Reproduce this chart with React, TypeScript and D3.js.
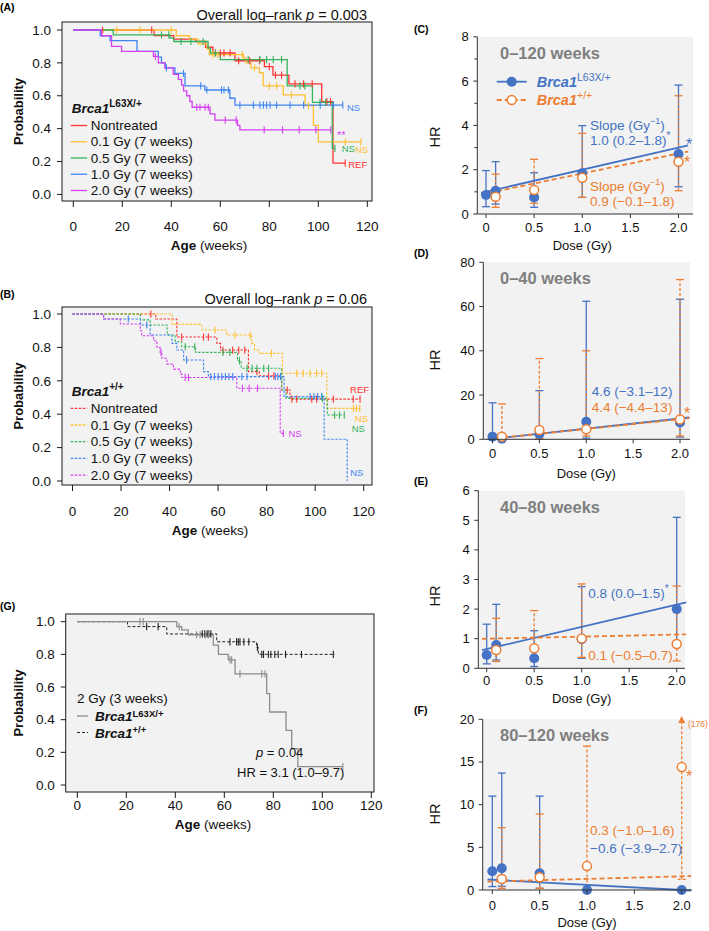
import React from "react";
import * as d3 from "d3";

const FONT = "'Liberation Sans', Arial, Helvetica, sans-serif";
const BLUE = "#4472c4";
const ORANGE = "#ed7d31";
const BG = "#f2f2f2";
const TITLE_GRAY = "#7f7f7f";

// ---------------- Kaplan–Meier data ----------------
const kmXTicks = [0, 20, 40, 60, 80, 100, 120];
const kmYTicks = [0, 0.2, 0.4, 0.6, 0.8, 1.0];
const groupLabels = ["Nontreated", "0.1 Gy (7 weeks)", "0.5 Gy (7 weeks)", "1.0 Gy (7 weeks)", "2.0 Gy (7 weeks)"];
const groupColors = ["#ff3333", "#ffc030", "#33b35a", "#3f86f2", "#d43ff2"];
const endLabelsA = ["REF", "NS", "NS", "NS", "**"];
const endLabelsB = ["REF", "NS", "NS", "NS", "NS"];

// Panel A – Brca1 L63X/+ : [week, survival after event]
const aNontreatedSteps = [[33, 0.966], [41, 0.945], [50, 0.93], [54, 0.895], [57, 0.86], [66, 0.813], [78, 0.777], [81.5, 0.726], [88, 0.672], [101.4, 0.564], [106, 0.19]];
const aNontreatedCens = [12, 32, 58, 60, 61.5, 64, 67.5, 72, 76, 80, 82.5, 85, 90.5, 94, 97.5, 103.5, 105, 111];
const a01Steps = [[42, 0.965], [47.5, 0.945], [51, 0.915], [54.5, 0.885], [55.5, 0.85], [69.5, 0.83], [70.5, 0.8], [72.5, 0.77], [76, 0.74], [77.5, 0.66], [85.7, 0.605], [94.6, 0.54], [98, 0.42], [100, 0.32]];
const a01Cens = [17.7, 27.2, 40, 57, 59, 69, 74, 80, 83, 89, 96, 111, 117.4];
const a05Steps = [[16.3, 0.97], [39.5, 0.95], [41, 0.93], [55, 0.89], [56, 0.86], [60, 0.82], [87.3, 0.66], [97.6, 0.56], [105.7, 0.28]];
const a05Cens = [36, 39, 44, 48, 53, 58, 71.4, 76.2, 78.9, 81.6, 85, 92.5, 94.5, 100.7, 103, 106.8];
const a10Steps = [[11, 0.965], [15, 0.935], [26, 0.87], [34.7, 0.835], [36, 0.8], [37.5, 0.77], [41.5, 0.736], [45.6, 0.66], [53.7, 0.635], [63.9, 0.585], [66, 0.543]];
const a10Cens = [38, 45, 52, 54.5, 60.5, 61.5, 63.3, 68, 73.5, 76.2, 77.6, 78.9, 80.3, 83, 88.5, 94, 100.8, 106.2, 110];
const a20Steps = [[11.5, 0.965], [15.6, 0.9], [19.7, 0.87], [32.7, 0.84], [34.7, 0.8], [37.4, 0.77], [40.8, 0.73], [42.9, 0.7], [44.2, 0.665], [45, 0.63], [46.3, 0.6], [47.6, 0.565], [48.5, 0.53], [55.8, 0.49], [57.8, 0.452], [67, 0.42], [68, 0.392]];
const a20Cens = [33.5, 50.4, 51.7, 53.8, 55.1, 62, 66.5, 77.9, 85.4, 92.2, 99, 105.1];
const aEnds = [111, 117.4, 106.8, 110, 105.1];

// Panel B – Brca1 +/+
const bNontreatedSteps = [[34.3, 0.97], [43, 0.862], [59.5, 0.824], [61, 0.784], [72.5, 0.655], [77, 0.63], [86.2, 0.545], [89.6, 0.49]];
const bNontreatedCens = [32.3, 45, 54, 56, 62, 66, 68.5, 71, 76, 80.8, 83, 88.5, 90.4, 92.4, 98.6, 100.6, 107.5, 115.7, 118.5];
const b01Steps = [[41, 0.938], [53.3, 0.904], [63.5, 0.874], [73.8, 0.824], [75, 0.784], [77, 0.764], [86.5, 0.645], [104.8, 0.435]];
const b01Cens = [58.8, 67, 73.2, 82, 92.4, 95.1, 97.9, 100.6, 102.7, 115.7, 117, 118.4];
const b05Steps = [[28, 0.965], [32, 0.934], [39, 0.874], [42.3, 0.834], [45, 0.804], [50.7, 0.77], [68, 0.72], [69.5, 0.675], [86.2, 0.545], [88, 0.495], [105, 0.395]];
const b05Cens = [46.5, 50.4, 62, 64.8, 68.8, 71.9, 74, 76, 78.8, 80.8, 103, 108, 110, 112];
const b10Steps = [[12.8, 0.97], [28, 0.934], [32, 0.874], [41, 0.824], [43, 0.784], [45.8, 0.725], [54, 0.655], [56, 0.625], [87.2, 0.505], [103.7, 0.25], [113.2, 0]];
const b10Cens = [23, 30.6, 47, 57, 58.5, 60, 61.5, 63, 64.5, 66, 69.8, 71.9, 83.6, 84.6, 85.7, 97.9, 99.5, 101, 102.7];
const b20Steps = [[12.8, 0.97], [19.7, 0.94], [27.9, 0.9], [28.5, 0.87], [33.4, 0.84], [34.8, 0.8], [36.1, 0.77], [36.8, 0.735], [38.9, 0.7], [41.6, 0.67], [44.4, 0.64], [45.1, 0.62], [67.7, 0.555], [85.6, 0.285]];
const b20Cens = [36.5, 46.4, 47.8, 70, 72.8, 76.2, 86.9];
const bEnds = [118.5, 118.4, 112, 113.2, 86.9];

// Panel G – 2 Gy (3 weeks)
const gMutSteps = [[40.6, 0.97], [42.6, 0.95], [45.3, 0.92], [55.5, 0.857], [57.6, 0.8], [61.6, 0.766], [64.4, 0.68], [77.3, 0.56], [78.5, 0.447], [85.2, 0.335], [87.5, 0.223], [90, 0.112]];
const gMutCens = [25.6, 26.9, 41.6, 48.7, 50.1, 52.2, 53.5, 62.3, 63, 66.4, 75.3, 76.6, 108.4];
const gWtSteps = [[20.5, 0.97], [36.5, 0.925], [56.9, 0.877], [73.2, 0.843], [73.9, 0.8]];
const gWtCens = [28.3, 33, 51, 52, 53, 53.7, 54.5, 62.3, 65, 65.7, 66.4, 68, 70, 73.5, 75.3, 76, 78, 79, 80.6, 82, 85, 91.5, 104.5];
const gEnds = [108.4, 105.2];

// ---------------- Hazard-ratio data ----------------
const doseTicks = [0, 0.5, 1.0, 1.5, 2.0];
const doseTickLabels = ["0", "0.5", "1.0", "1.5", "2.0"];

const cBlueDose = [0, 0.1, 0.5, 1.0, 2.0];
const cBlueHR = [0.86, 1.05, 0.75, 1.84, 2.71];
const cBlueLo = [0.33, 0.45, 0.3, 0.75, 1.23];
const cBlueHi = [1.96, 2.36, 1.86, 3.99, 5.82];
const cOrangeDose = [0.1, 0.5, 1.0, 2.0];
const cOrangeHR = [0.78, 1.08, 1.64, 2.36];
const cOrangeLo = [0.3, 0.48, 0.75, 1.05];
const cOrangeHi = [1.8, 2.47, 3.64, 5.34];
const cFitBlue = [1.0, 1.0];
const cFitOrange = [0.93, 0.9];

const dBlueDose = [0, 0.1, 0.5, 1.0, 2.0];
const dBlueHR = [1.2, 0.3, 2.4, 7.9, 7.6];
const dBlueLo = [0.1, 0.05, 0.2, 0.5, 1.0];
const dBlueHi = [16.5, 1.0, 22, 62.4, 63.3];
const dOrangeDose = [0.1, 0.5, 1.0, 2.0];
const dOrangeHR = [1.2, 4.2, 4.5, 9.0];
const dOrangeLo = [0.1, 0.3, 1.5, 1.5];
const dOrangeHi = [16.0, 36.5, 40.0, 72.2];
const dFitBlue = [0.2, 4.6];
const dFitOrange = [0.3, 4.4];

const eBlueDose = [0, 0.1, 0.5, 1.0, 2.0];
const eBlueHR = [0.45, 0.79, 0.34, 0.98, 2.0];
const eBlueLo = [0.15, 0.28, 0.06, 0.34, 0.8];
const eBlueHi = [1.49, 2.16, 1.27, 2.76, 5.1];
const eOrangeDose = [0.1, 0.5, 1.0, 2.0];
const eOrangeHR = [0.62, 0.68, 1.01, 0.82];
const eOrangeLo = [0.23, 0.24, 0.37, 0.25];
const eOrangeHi = [1.69, 1.95, 2.85, 2.78];
const eFitBlue = [0.65, 0.75];
const eFitOrange = [1.0, 0.07];

const fBlueDose = [0, 0.1, 0.5, 1.0, 2.0];
const fBlueHR = [2.2, 2.54, 1.95, 0, 0];
const fBlueLo = [0.4, 0.45, 0.2, 0, 0];
const fBlueHi = [11.0, 13.7, 11.0, 0, 0];
const fOrangeDose = [0.1, 0.5, 1.0, 2.0];
const fOrangeHR = [1.29, 1.48, 2.8, 14.4];
const fOrangeLo = [0.2, 0.2, 0.3, 1.25];
const fOrangeHi = [7.3, 8.9, 16.86, 176];
const fFitBlue = [1.2, -0.6];
const fFitOrange = [1.0, 0.3];

// ---------------- helpers ----------------
function survivalAt(steps: number[][], t: number) {
  let p = 1;
  for (const s of steps) if (s[0] <= t) p = s[1];
  return p;
}

type Curve = { steps: number[][]; cens: number[]; end: number; color: string; dash?: string; width?: number };
type EndLabel = { text: string; color: string; dx: number; dy: number; size?: number };

function KMPanel(props: {
  box: number[];
  xr: number[];
  yr: number[];
  curves: Curve[];
  endLabels?: (EndLabel | null)[];
  xLabelY: number;
  ageX: number;
  ageY: number;
  probX: number;
}) {
  const { box, curves } = props;
  const x = d3.scaleLinear().domain([0, 120]).range(props.xr);
  const y = d3.scaleLinear().domain([0, 1]).range(props.yr);
  const [bx0, by0, bx1, by1] = box;
  const fmt = d3.format(".1f");
  return (
    <g>
      <rect x={bx0} y={by0} width={bx1 - bx0} height={by1 - by0} fill={BG} />
      {curves.map((c, i) => {
        let d = `M${x(0)},${y(1)}`;
        c.steps.forEach((s) => {
          d += `H${x(s[0])}V${y(s[1])}`;
        });
        d += `H${x(c.end)}`;
        return <path key={"p" + i} d={d} fill="none" stroke={c.color} strokeWidth={c.width ?? 1.3} strokeDasharray={c.dash} />;
      })}
      {curves.map((c, i) =>
        c.cens.map((t, j) => {
          const yy = y(survivalAt(c.steps, t));
          return <line key={`c${i}-${j}`} x1={x(t)} x2={x(t)} y1={yy - 3.6} y2={yy + 3.6} stroke={c.color} strokeWidth={1.1} />;
        })
      )}
      {props.endLabels &&
        props.endLabels.map((l, i) => {
          if (!l) return null;
          const c = curves[i];
          const xx = x(c.end) + l.dx;
          const yy = y(survivalAt(c.steps, c.end)) + l.dy;
          const fs = l.size ?? 9.5;
          const isStar = l.text.startsWith("*");
          return (
            <text key={"e" + i} x={xx} y={yy + (isStar ? fs * 0.62 : fs * 0.35)} fontSize={fs} fill={l.color}>
              {l.text}
            </text>
          );
        })}
      <rect x={bx0} y={by0} width={bx1 - bx0} height={by1 - by0} fill="none" stroke="#1a1a1a" strokeWidth={1} />
      {kmYTicks.map((v) => (
        <g key={"yt" + v}>
          <line x1={bx0 - 5} x2={bx0} y1={y(v)} y2={y(v)} stroke="#1a1a1a" />
          <text x={bx0 - 11} y={y(v) + 4.7} fontSize={13.5} textAnchor="end" fill="#111">
            {fmt(v)}
          </text>
        </g>
      ))}
      {kmXTicks.map((v) => (
        <g key={"xt" + v}>
          <line x1={x(v)} x2={x(v)} y1={by1} y2={by1 + 6} stroke="#1a1a1a" />
          <text x={x(v)} y={props.xLabelY + 4.7} fontSize={13.5} textAnchor="middle" fill="#111">
            {v}
          </text>
        </g>
      ))}
      <text x={props.ageX} y={props.ageY + 4.7} fontSize={13.5} textAnchor="middle" fill="#111">
        <tspan fontWeight="bold">Age</tspan>
        <tspan> (weeks)</tspan>
      </text>
      <text
        transform={`translate(${props.probX},${(by0 + by1) / 2}) rotate(-90)`}
        fontSize={13}
        fontWeight="bold"
        textAnchor="middle"
        fill="#111"
      >
        Probability
      </text>
    </g>
  );
}

type Series = { dose: number[]; hr: number[]; lo: number[]; hi: number[] };

function DosePanel(p: {
  axisX: number;
  bgRight: number;
  yBottom: number;
  yTop: number;
  yMax: number;
  yTicks: number[];
  yMinor?: number[];
  x0: number;
  x2: number;
  labelY: number;
  doseY: number;
  hrY: number;
  title: string;
  titleY: number;
  blue: Series;
  orange: Series;
  fitBlue: number[];
  fitOrange: number[];
  children?: React.ReactNode;
}) {
  const x = d3.scaleLinear().domain([0, 2]).range([p.x0, p.x2]);
  const y = d3.scaleLinear().domain([0, p.yMax]).range([p.yBottom, p.yTop]);
  const fitPath = (f: number[]) => {
    const pts: [number, number][] = [-0.05, 2.1].map((d) => [x(d), y(f[0] + f[1] * d)]);
    return d3.line()(pts) as string;
  };
  const cap = 4;
  const bars = (s: Series, color: string, dash?: string) =>
    s.dose.map((d, i) => {
      if (s.hi[i] <= s.lo[i]) return null;
      const xx = x(d);
      const yl = y(s.lo[i]);
      if (s.hi[i] > p.yMax) {
        const tip = y(p.yMax * 1.02);
        return (
          <g key={color + i}>
            <line x1={xx} x2={xx} y1={yl} y2={tip + 6} stroke={color} strokeWidth={1.3} strokeDasharray={dash} />
            <line x1={xx - cap} x2={xx + cap} y1={yl} y2={yl} stroke={color} strokeWidth={1.3} strokeDasharray={dash} />
            <polygon points={`${xx},${tip} ${xx - 3.5},${tip + 7} ${xx + 3.5},${tip + 7}`} fill={color} />
          </g>
        );
      }
      const yh = y(s.hi[i]);
      return (
        <g key={color + i}>
          <line x1={xx} x2={xx} y1={yl} y2={yh} stroke={color} strokeWidth={1.3} strokeDasharray={dash} />
          <line x1={xx - cap} x2={xx + cap} y1={yl} y2={yl} stroke={color} strokeWidth={1.3} />
          <line x1={xx - cap} x2={xx + cap} y1={yh} y2={yh} stroke={color} strokeWidth={1.3} />
        </g>
      );
    });
  return (
    <g>
      <rect x={p.axisX} y={p.yTop} width={p.bgRight - p.axisX} height={p.yBottom - p.yTop} fill={BG} />
      <text x={500} y={p.titleY} fontSize={16.5} fontWeight="bold" fill={TITLE_GRAY}>
        {p.title}
      </text>
      {bars(p.blue, BLUE)}
      {bars(p.orange, ORANGE, "3,2")}
      <path d={fitPath(p.fitBlue)} stroke={BLUE} strokeWidth={1.8} fill="none" />
      <path d={fitPath(p.fitOrange)} stroke={ORANGE} strokeWidth={1.8} fill="none" strokeDasharray="5,3" />
      {p.blue.dose.map((d, i) => (
        <circle key={"bp" + i} cx={x(d)} cy={y(p.blue.hr[i])} r={5} fill={BLUE} />
      ))}
      {p.orange.dose.map((d, i) => (
        <circle key={"op" + i} cx={x(d)} cy={y(p.orange.hr[i])} r={4.5} fill="#fff" stroke={ORANGE} strokeWidth={1.5} />
      ))}
      <line x1={p.axisX} x2={p.axisX} y1={p.yTop} y2={p.yBottom} stroke="#333" strokeWidth={1} />
      <line x1={p.axisX} x2={p.bgRight} y1={p.yBottom} y2={p.yBottom} stroke="#333" strokeWidth={1} />
      {p.yTicks.map((v) => (
        <g key={"y" + v}>
          <line x1={p.axisX - 4} x2={p.axisX} y1={y(v)} y2={y(v)} stroke="#333" />
          <text x={p.axisX - 8.5} y={y(v) + 4.5} fontSize={13} textAnchor="end" fill="#111">
            {v}
          </text>
        </g>
      ))}
      {(p.yMinor || []).map((v) => (
        <line key={"m" + v} x1={p.axisX - 3} x2={p.axisX} y1={y(v)} y2={y(v)} stroke="#333" />
      ))}
      {doseTicks.map((v, i) => (
        <g key={"x" + v}>
          <line x1={x(v)} x2={x(v)} y1={p.yBottom} y2={p.yBottom + 4} stroke="#333" />
          <text x={x(v)} y={p.labelY + 4.5} fontSize={13} textAnchor="middle" fill="#111">
            {doseTickLabels[i]}
          </text>
        </g>
      ))}
      <text x={(p.x0 + p.x2) / 2} y={p.doseY + 4.5} fontSize={13} textAnchor="middle" fill="#111">
        Dose (Gy)
      </text>
      <text transform={`translate(${440},${p.hrY}) rotate(-90)`} fontSize={14.5} textAnchor="middle" fill="#111">
        HR
      </text>
      {p.children}
    </g>
  );
}

function Sup({ children, size = 9.5, weight, rise = 6 }: { children: React.ReactNode; size?: number; weight?: string; rise?: number }) {
  return (
    <tspan fontSize={size} dy={-rise} fontWeight={weight}>
      {children}
    </tspan>
  );
}

export default function App() {
  const aCurves: Curve[] = [
    { steps: aNontreatedSteps, cens: aNontreatedCens, end: aEnds[0], color: groupColors[0] },
    { steps: a01Steps, cens: a01Cens, end: aEnds[1], color: groupColors[1] },
    { steps: a05Steps, cens: a05Cens, end: aEnds[2], color: groupColors[2] },
    { steps: a10Steps, cens: a10Cens, end: aEnds[3], color: groupColors[3] },
    { steps: a20Steps, cens: a20Cens, end: aEnds[4], color: groupColors[4] },
  ];
  const bCurves: Curve[] = [
    { steps: bNontreatedSteps, cens: bNontreatedCens, end: bEnds[0], color: groupColors[0], dash: "2.5,1.5", width: 1.1 },
    { steps: b01Steps, cens: b01Cens, end: bEnds[1], color: groupColors[1], dash: "2.5,1.5", width: 1.1 },
    { steps: b05Steps, cens: b05Cens, end: bEnds[2], color: groupColors[2], dash: "2.5,1.5", width: 1.1 },
    { steps: b10Steps, cens: b10Cens, end: bEnds[3], color: groupColors[3], dash: "2.5,1.5", width: 1.1 },
    { steps: b20Steps, cens: b20Cens, end: bEnds[4], color: groupColors[4], dash: "2.5,1.5", width: 1.1 },
  ];
  const gCurves: Curve[] = [
    { steps: gWtSteps, cens: gWtCens, end: gEnds[1], color: "#222", dash: "3,2", width: 1 },
    { steps: gMutSteps, cens: gMutCens, end: gEnds[0], color: "#8c8c8c", width: 1.3 },
  ];
  const aOff = [
    [3, 1.5],
    [-6, 7.5],
    [6.7, 0.6],
    [4.2, 2.2],
    [6.2, 2],
  ];
  const bOff = [
    [-10, -9],
    [-5, 10],
    [7.4, 13.3],
    [3, -8],
    [5, 0],
  ];
  const aEndL = endLabelsA.map((t, i) => ({ text: t, color: groupColors[i], dx: aOff[i][0], dy: aOff[i][1], size: t === "**" ? 11 : 9.5 }));
  const bEndL = endLabelsB.map((t, i) => ({ text: t, color: groupColors[i], dx: bOff[i][0], dy: bOff[i][1] }));

  const legendA = (x0: number, yTitle: number, yFirst: number, gap: number, dashed: boolean, sup: string) => (
    <g>
      <text x={x0 + 1} y={yTitle + 5} fontSize={13.5} fontWeight="bold" fill="#111">
        <tspan fontStyle="italic">Brca1</tspan>
        <Sup size={10} weight="bold">
          {sup}
        </Sup>
      </text>
      {groupLabels.map((l, i) => (
        <g key={l}>
          <line
            x1={x0}
            x2={x0 + 16.5}
            y1={yFirst + i * gap}
            y2={yFirst + i * gap}
            stroke={groupColors[i]}
            strokeWidth={1.3}
            strokeDasharray={dashed ? "2.5,1.5" : undefined}
          />
          <text x={x0 + 20} y={yFirst + i * gap + 4.7} fontSize={13.5} fill="#111">
            {l}
          </text>
        </g>
      ))}
    </g>
  );

  return (
    <svg width={709} height={931} style={{ position: "absolute", left: 0, top: 0, fontFamily: FONT }}>
      <rect width={709} height={931} fill="#fff" />
      {/* Panel A */}
      <text x={0} y={10.5} fontSize={10.5} fontWeight="bold">(A)</text>
      <text x={367} y={20} fontSize={14.5} textAnchor="end" fill="#111">
        Overall log–rank <tspan fontStyle="italic">p</tspan> = 0.003
      </text>
      <KMPanel
        box={[62, 22, 372, 201]}
        xr={[73.3, 367.3]}
        yr={[194.4, 30]}
        curves={aCurves}
        endLabels={aEndL}
        xLabelY={226.7}
        ageX={209}
        ageY={245.6}
        probX={23}
      />
      {legendA(70.7, 108, 125.5, 16.25, false, "L63X/+")}

      {/* Panel B */}
      <text x={0} y={298} fontSize={10.5} fontWeight="bold">(B)</text>
      <text x={367} y={304} fontSize={14.5} textAnchor="end" fill="#111">
        Overall log–rank <tspan fontStyle="italic">p</tspan> = 0.06
      </text>
      <KMPanel
        box={[62, 307, 372, 485]}
        xr={[72.5, 363.7]}
        yr={[481, 314]}
        curves={bCurves}
        endLabels={bEndL}
        xLabelY={511.7}
        ageX={210}
        ageY={530}
        probX={23}
      />
      {legendA(70.7, 391, 408.3, 16.7, true, "+/+")}

      {/* Panel G */}
      <text x={0} y={610} fontSize={10.5} fontWeight="bold">(G)</text>
      <KMPanel
        box={[65.7, 614, 374, 792]}
        xr={[77.3, 371.3]}
        yr={[785, 621.7]}
        curves={gCurves}
        xLabelY={805}
        ageX={213}
        ageY={824}
        probX={23}
      />
      <text x={77} y={703} fontSize={13.5} fill="#111">2 Gy (3 weeks)</text>
      <line x1={77} x2={88} y1={716} y2={716} stroke="#8c8c8c" strokeWidth={1.3} />
      <text x={95} y={721} fontSize={13.5} fontWeight="bold" fill="#111">
        <tspan fontStyle="italic">Brca1</tspan>
        <Sup size={9.5} weight="bold" rise={4.5}>L63X/+</Sup>
      </text>
      <line x1={77} x2={88} y1={732.5} y2={732.5} stroke="#222" strokeWidth={1} strokeDasharray="3,2" />
      <text x={95} y={737.5} fontSize={13.5} fontWeight="bold" fill="#111">
        <tspan fontStyle="italic">Brca1</tspan>
        <Sup size={9.5} weight="bold" rise={4.5}>+/+</Sup>
      </text>
      <text x={256} y={756.5} fontSize={13} fill="#111">
        <tspan fontStyle="italic">p</tspan> = 0.04
      </text>
      <text x={237} y={776.5} fontSize={13} fill="#111">
        HR = 3.1 (1.0–9.7)
      </text>

      {/* Panel C */}
      <text x={414} y={33} fontSize={10.5} fontWeight="bold">(C)</text>
      <DosePanel
        axisX={477.3}
        bgRight={693}
        yBottom={214}
        yTop={36.8}
        yMax={8}
        yTicks={[0, 2, 4, 6, 8]}
        yMinor={[1, 3, 5, 7]}
        x0={486}
        x2={678.5}
        labelY={227.5}
        doseY={245}
        hrY={137}
        title="0–120 weeks"
        titleY={58.8}
        blue={{ dose: cBlueDose, hr: cBlueHR, lo: cBlueLo, hi: cBlueHi }}
        orange={{ dose: cOrangeDose, hr: cOrangeHR, lo: cOrangeLo, hi: cOrangeHi }}
        fitBlue={cFitBlue}
        fitOrange={cFitOrange}
      >
        <line x1={496.7} x2={526.7} y1={81.7} y2={81.7} stroke={BLUE} strokeWidth={1.8} />
        <circle cx={511.7} cy={81.7} r={5} fill={BLUE} />
        <text x={536.7} y={86.7} fontSize={14.5} fill={BLUE}>
          <tspan fontWeight="bold" fontStyle="italic">Brca1</tspan>
          <Sup size={10.5}>L63X/+</Sup>
        </text>
        <line x1={496.7} x2={526.7} y1={100} y2={100} stroke={ORANGE} strokeWidth={1.8} strokeDasharray="5,3" />
        <circle cx={511.7} cy={100} r={4.5} fill="#fff" stroke={ORANGE} strokeWidth={1.5} />
        <text x={536.7} y={105} fontSize={14.5} fill={ORANGE}>
          <tspan fontWeight="bold" fontStyle="italic">Brca1</tspan>
          <Sup size={10.5}>+/+</Sup>
        </text>
        <text x={590} y={129.7} fontSize={13.5} fill={BLUE}>
          Slope (Gy<Sup size={9}>−1</Sup>
          <tspan dy={6}>)</tspan>
        </text>
        <text x={590} y={144.7} fontSize={13.5} fill={BLUE}>
          1.0 (0.2–1.8)<Sup size={10}>*</Sup>
        </text>
        <text x={686} y={150} fontSize={16} fill={BLUE}>*</text>
        <text x={684} y={168} fontSize={16} fill={ORANGE}>*</text>
        <text x={590} y={190.7} fontSize={13.5} fill={ORANGE}>
          Slope (Gy<Sup size={9}>−1</Sup>
          <tspan dy={6}>)</tspan>
        </text>
        <text x={590} y={205.7} fontSize={13.5} fill={ORANGE}>
          0.9 (−0.1–1.8)
        </text>
      </DosePanel>

      {/* Panel D */}
      <text x={414} y={256.7} fontSize={10.5} fontWeight="bold">(D)</text>
      <DosePanel
        axisX={483.3}
        bgRight={690}
        yBottom={439.3}
        yTop={262.3}
        yMax={80}
        yTicks={[0, 20, 40, 60, 80]}
        x0={492.5}
        x2={680}
        labelY={453.3}
        doseY={473}
        hrY={360}
        title="0–40 weeks"
        titleY={284.3}
        blue={{ dose: dBlueDose, hr: dBlueHR, lo: dBlueLo, hi: dBlueHi }}
        orange={{ dose: dOrangeDose, hr: dOrangeHR, lo: dOrangeLo, hi: dOrangeHi }}
        fitBlue={dFitBlue}
        fitOrange={dFitOrange}
      >
        <text x={591.7} y={396.4} fontSize={13.5} fill={BLUE}>4.6 (−3.1–12)</text>
        <text x={591.7} y={412.4} fontSize={13.5} fill={ORANGE}>4.4 (−4.4–13)</text>
        <text x={684} y={419} fontSize={16} fill={ORANGE}>*</text>
      </DosePanel>

      {/* Panel E */}
      <text x={414} y={484.7} fontSize={10.5} fontWeight="bold">(E)</text>
      <DosePanel
        axisX={478.3}
        bgRight={685}
        yBottom={668.3}
        yTop={490.7}
        yMax={6}
        yTicks={[0, 1, 2, 3, 4, 5, 6]}
        x0={486.7}
        x2={676.7}
        labelY={680.7}
        doseY={698.3}
        hrY={596}
        title="40–80 weeks"
        titleY={512.5}
        blue={{ dose: eBlueDose, hr: eBlueHR, lo: eBlueLo, hi: eBlueHi }}
        orange={{ dose: eOrangeDose, hr: eOrangeHR, lo: eOrangeLo, hi: eOrangeHi }}
        fitBlue={eFitBlue}
        fitOrange={eFitOrange}
      >
        <text x={588.3} y={598} fontSize={13.5} fill={BLUE}>
          0.8 (0.0–1.5)<Sup size={10}>*</Sup>
        </text>
        <text x={588.3} y={659.7} fontSize={13.5} fill={ORANGE}>0.1 (−0.5–0.7)</text>
      </DosePanel>

      {/* Panel F */}
      <text x={414} y={714} fontSize={10.5} fontWeight="bold">(F)</text>
      <DosePanel
        axisX={482.7}
        bgRight={691.7}
        yBottom={890}
        yTop={719.3}
        yMax={20}
        yTicks={[0, 5, 10, 15, 20]}
        x0={492.3}
        x2={681.7}
        labelY={905}
        doseY={922.7}
        hrY={814}
        title="80–120 weeks"
        titleY={741}
        blue={{ dose: fBlueDose, hr: fBlueHR, lo: fBlueLo, hi: fBlueHi }}
        orange={{ dose: fOrangeDose, hr: fOrangeHR, lo: fOrangeLo, hi: fOrangeHi }}
        fitBlue={fFitBlue}
        fitOrange={fFitOrange}
      >
        <text x={590} y={835.4} fontSize={13.5} fill={ORANGE}>0.3 (−1.0–1.6)</text>
        <text x={590} y={853} fontSize={13.5} fill={BLUE}>−0.6 (−3.9–2.7)</text>
        <text x={686} y={782} fontSize={16} fill={ORANGE}>*</text>
        <text x={688} y={727} fontSize={8.5} fill={ORANGE}>(176)</text>
      </DosePanel>
    </svg>
  );
}
